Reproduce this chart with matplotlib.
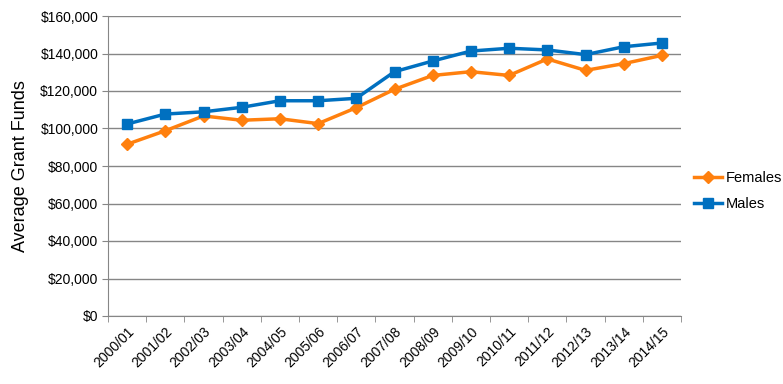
import numpy as np
import matplotlib.pyplot as plt
from matplotlib.ticker import FuncFormatter

years = ["2000/01", "2001/02", "2002/03", "2003/04", "2004/05", "2005/06", "2006/07",
         "2007/08", "2008/09", "2009/10", "2010/11", "2011/12", "2012/13", "2013/14", "2014/15"]
females = [91600, 98800, 106700, 104400, 105200, 102600, 111100,
           120900, 128300, 130300, 128300, 137100, 131000, 134600, 139000]
males = [102400, 107700, 108900, 111300, 114800, 114800, 116100,
         130300, 136000, 141300, 142800, 141900, 139400, 143600, 145600]

plt.rcParams['font.family'] = ['Liberation Sans', 'DejaVu Sans']

fig = plt.figure(figsize=(7.83, 3.84), dpi=100)
ax = fig.add_axes([108 / 783, 1 - 316 / 384, (681 - 108) / 783, 300 / 384])

x = np.arange(len(years))
ax.plot(x, females, color='#FF800E', lw=2.5, marker='D', ms=6, label='Females')
ax.plot(x, males, color='#0070C0', lw=2.5, marker='s', ms=7, label='Males')

ax.set_xlim(-0.5, len(years) - 0.5)
ax.set_ylim(0, 160000)
ax.set_yticks(np.arange(0, 160001, 20000))
ax.yaxis.set_major_formatter(FuncFormatter(lambda v, p: f"${v:,.0f}"))
ax.set_xticks(x)
ax.set_xticklabels(years, rotation=45, ha='right', rotation_mode='anchor', fontsize=10)
ax.set_xticks(np.arange(-0.5, len(years)), minor=True)
ax.tick_params(axis='x', which='major', length=0, pad=6)
ax.tick_params(axis='x', which='minor', length=4, color='#868686')
ax.tick_params(axis='y', length=4, color='#868686', labelsize=10, pad=3)

ax.grid(axis='y', color='#868686', lw=1)
ax.set_axisbelow(True)
for s in ['top', 'right']:
    ax.spines[s].set_visible(False)
for s in ['left', 'bottom']:
    ax.spines[s].set_color('#868686')

ax.set_ylabel("Average Grant Funds", fontsize=13, labelpad=8)

ax.legend(loc='center left', bbox_to_anchor=(1.0, 0.417), frameon=False, fontsize=10.5,
          handlelength=1.9, handletextpad=0.3, labelspacing=0.8)

fig.savefig("out.png", dpi=100)
